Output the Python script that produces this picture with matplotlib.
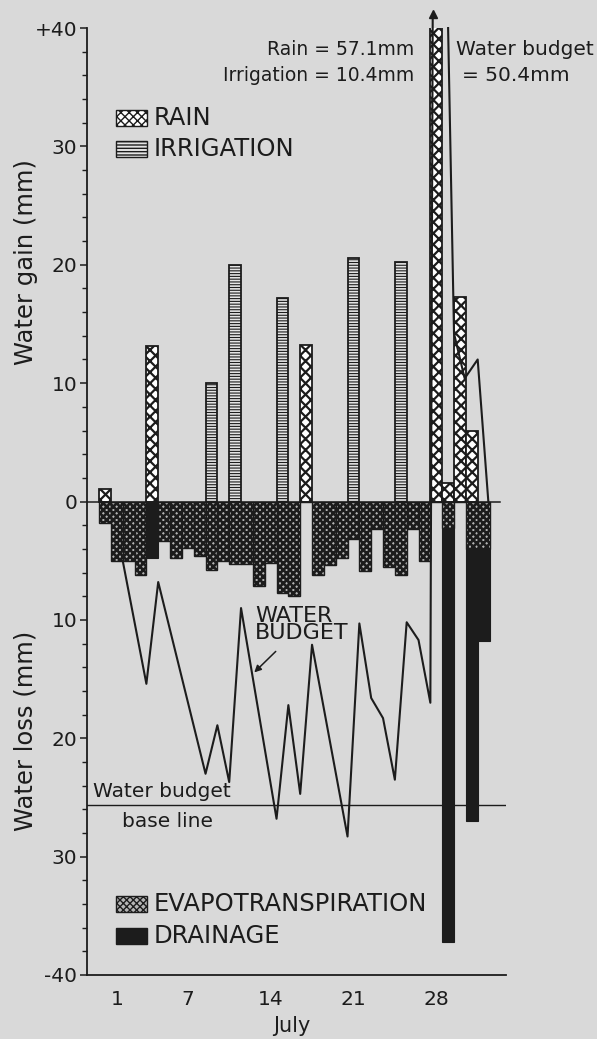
import matplotlib.pyplot as plt
import numpy as np
from matplotlib.patches import Rectangle

# ---- data (mm, days from 30 June = 0) ----
rain_days = [0, 4, 17, 28, 29, 30, 31]
rain_mm = [1.1, 13.1, 13.2, 57.1, 1.6, 17.3, 6.0]

irrig_days = [9, 11, 15, 21, 25]
irrig_mm = [10.0, 20.0, 17.2, 20.6, 20.2]

et_days = list(range(0, 33))
et_mm = [1.8, 5.0, 5.0, 6.2, 0.0, 3.3, 4.8, 3.9, 4.6, 5.8, 5.0, 5.3, 5.3, 7.1,
         5.2, 7.7, 8.0, 0.0, 6.2, 5.4, 4.8, 3.2, 5.9, 2.3, 5.5, 6.2, 2.3, 5.0,
         0.0, 2.2, 0.0, 4.0, 4.0]

drain_days = [4, 29, 31, 32]
drain_mm = [4.8, 35.0, 23.0, 7.8]

# water budget line (plotted relative to the chart axis, loss negative)
budget_x = [1.5, 3.5, 4.5, 8.5, 9.5, 10.5, 11.5, 14.5, 15.5, 16.5, 17.5,
            20.5, 21.5, 22.5, 23.5, 24.5, 25.5, 26.5, 27.5, 27.7]
budget_y = [-5.0, -15.4, -6.8, -23.0, -18.9, -23.7, -9.0, -26.8, -17.2,
            -24.7, -12.1, -28.3, -10.3, -16.6, -18.3, -23.5, -10.2, -11.7,
            -17.0, 41.0]
budget2_x = [29.0, 29.5, 30.4, 31.5, 32.4]
budget2_y = [40.0, 14.2, 10.4, 12.0, 0.0]

baseline = -25.6

ytick_vals = [-40, -30, -20, -10, 0, 10, 20, 30, 40]
ytick_labels = ["-40", "30", "20", "10", "0", "10", "20", "30", "+40"]
xtick_vals = [1, 7, 14, 21, 28]

bg = "#d9d9d9"
ink = "#1c1c1c"
et_face = "#b4b4b4"

fig = plt.figure(figsize=(5.97, 10.39), dpi=100, facecolor=bg)
ax = fig.add_axes([0.1457, 0.0616, 0.702, 0.9114])
ax.set_facecolor(bg)
ax.set_xlim(-1.52, 33.9)
ax.set_ylim(-40, 40)


def hatched(bars, lw):
    for b in bars:
        if hasattr(b, "set_hatch_linewidth"):
            b.set_hatch_linewidth(lw)


et_arr = np.array(et_mm)

# gains
hatched(ax.bar(rain_days, rain_mm, width=1.0, facecolor="white", edgecolor=ink,
               hatch="xxx", linewidth=1.3, zorder=3), 1.6)
hatched(ax.bar(irrig_days, irrig_mm, width=1.0, facecolor="#e4e4e4",
               edgecolor=ink, hatch="------", linewidth=1.3, zorder=3), 0.8)

# losses
hatched(ax.bar(et_days, -et_arr, width=1.0, facecolor=et_face, edgecolor=ink,
               hatch="xxxxx", linewidth=1.0, zorder=3), 1.9)
ax.bar(drain_days, -np.array(drain_mm), bottom=-et_arr[drain_days], width=1.0,
       color=ink, edgecolor=ink, linewidth=0.8, zorder=3)

# zero line and base line
ax.plot([-1.52, 33.4], [0, 0], color=ink, lw=1.1, zorder=4)
ax.plot([-1.52, 33.9], [baseline, baseline], color=ink, lw=1.0, zorder=2)

# water budget line
ax.plot(budget_x, budget_y, color=ink, lw=1.5, zorder=5, clip_on=False)
ax.plot(budget2_x, budget2_y, color=ink, lw=1.5, zorder=5, clip_on=False)
ax.plot(27.72, 41.2, marker="^", ms=6, color=ink, clip_on=False, zorder=6)

# axes styling
ax.spines[["top", "right"]].set_visible(False)
ax.spines[["left", "bottom"]].set_linewidth(1.3)
ax.spines[["left", "bottom"]].set_color(ink)
ax.set_yticks(ytick_vals)
ax.set_yticklabels(ytick_labels)
ax.set_yticks(np.arange(-40, 41, 2), minor=True)
ax.tick_params(axis="y", which="major", direction="out", length=5, width=1.1,
               pad=2, labelsize=14.5, colors=ink)
ax.tick_params(axis="y", which="minor", direction="out", length=3.5, width=1.0,
               colors=ink)
ax.set_xticks(xtick_vals)
ax.tick_params(axis="x", length=0, pad=11, labelsize=14.5, colors=ink)

ax.text(-0.146, 20.2, "Water gain (mm)", rotation=90, ha="center", va="center",
        fontsize=17.5, color=ink, transform=ax.get_yaxis_transform())
ax.text(-0.146, -19.4, "Water loss (mm)", rotation=90, ha="center", va="center",
        fontsize=17.5, color=ink, transform=ax.get_yaxis_transform())
fig.text(292 / 597, 1 - 1026 / 1039, "July", ha="center", va="center",
         fontsize=15, color=ink)

# legend drawn by hand, like the original
leg = [(32.4, "RAIN", dict(facecolor="white", hatch="xxxx")),
       (29.8, "IRRIGATION", dict(facecolor="#e4e4e4", hatch="-----")),
       (-34.0, "EVAPOTRANSPIRATION", dict(facecolor=et_face, hatch="xxxxx")),
       (-36.7, "DRAINAGE", dict(facecolor=ink, hatch=None))]
for yc, label, sty in leg:
    r = Rectangle((0.93, yc - 0.68), 2.62, 1.36, edgecolor=ink, linewidth=1.0,
                  zorder=6, **sty)
    ax.add_patch(r)
    ax.text(4.15, yc, label, ha="left", va="center", fontsize=17.5, color=ink)

# annotations
ax.text(26.1, 38.2, "Rain = 57.1mm", ha="right", va="center", fontsize=13.5,
        color=ink)
ax.text(26.1, 36.0, "Irrigation = 10.4mm", ha="right", va="center",
        fontsize=13.5, color=ink)
ax.text(29.7, 38.2, "Water budget", ha="left", va="center", fontsize=14.5,
        color=ink, clip_on=False)
ax.text(30.2, 36.0, "= 50.4mm", ha="left", va="center", fontsize=14.5,
        color=ink)
ax.text(12.7, -10.4, "WATER\nBUDGET", ha="left", va="center", fontsize=16,
        color=ink, linespacing=0.85)
ax.annotate("", xy=(12.45, -14.6), xytext=(14.6, -12.5),
            arrowprops=dict(arrowstyle="-|>", color=ink, lw=1.1,
                            mutation_scale=10))
ax.text(-1.0, -24.5, "Water budget", ha="left", va="center", fontsize=14.5,
        color=ink)
ax.text(5.3, -27.0, "base line", ha="center", va="center", fontsize=14.5,
        color=ink)

fig.savefig("out.png", dpi=100, facecolor=bg)
